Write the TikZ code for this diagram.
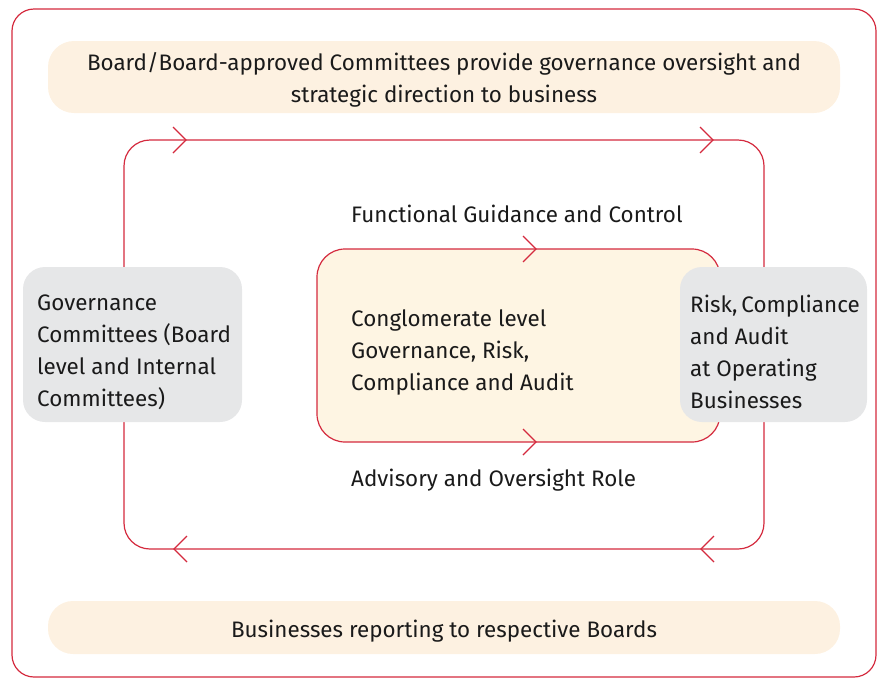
\documentclass[tikz,border=0pt]{standalone}
\usepackage{fontspec}
\setmainfont{Fira Sans}
\definecolor{lred}{HTML}{D42A3E}
\definecolor{cream}{HTML}{FDF1E1}
\definecolor{creamin}{HTML}{FEF5E3}
\definecolor{lgray}{HTML}{E6E7E8}
\definecolor{txt}{HTML}{1A1A1A}
\tikzset{
  redline/.style={draw=lred, line width=1.2pt},
  banner/.style={fill=cream, rounded corners=26pt},
  graybox/.style={fill=lgray, rounded corners=22pt},
  lbl/.style={text=txt, font=\fontsize{22.4}{32}\selectfont, inner sep=0pt},
  chevR/.pic={\draw[redline] (-7,-13) -- (6,0) -- (-7,13);},
  chevL/.pic={\draw[redline] (7,-13) -- (-6,0) -- (7,13);}
}
\begin{document}
\begin{tikzpicture}[x=1pt,y=-1pt]
\useasboundingbox (0,0) rectangle (877,678);
% outer frame
\draw[redline, rounded corners=22pt] (12,9) rectangle (876,677);
% banners
\fill[banner] (48,41) rectangle (840,113);
\node[lbl, align=center] (top) at (444,80) {Board/Board-approved Committees provide governance oversight and\\strategic direction to business};
\fill[banner, rounded corners=25pt] (48,601) rectangle (840,654);
\node[lbl] (bot) at (444,631) {Businesses reporting to respective Boards};
% loop
\draw[redline, rounded corners=26pt] (124,140) rectangle (764,549);
\pic at (180,140) {chevR};
\pic at (707,140) {chevR};
\pic at (180,549) {chevL};
\pic at (707,549) {chevL};
% inner box
\draw[redline, fill=creamin, rounded corners=28pt] (317,249) rectangle (720,442);
\pic at (530,249) {chevR};
\pic at (530,442) {chevR};
\node[lbl, anchor=west] (fgc) at (351,214) {Functional Guidance and Control};
\node[lbl, anchor=west] (aor) at (351,480) {Advisory and Oversight Role};
\node[lbl, anchor=west, align=left] (cong) at (351,352) {Conglomerate level\\Governance, Risk,\\Compliance and Audit};
% gray boxes
\fill[graybox] (23,267) rectangle (242,422);
\node[lbl, anchor=west, align=left] (gov) at (37,352) {Governance\\Committees (Board\\level and Internal\\Committees)};
\fill[graybox] (680,267) rectangle (867,422);
\node[lbl, anchor=west, align=left] (rca) at (690,352) {Risk,\hspace{-2pt} Compliance\\and Audit\\at Operating\\Businesses};
\end{tikzpicture}
\end{document}
